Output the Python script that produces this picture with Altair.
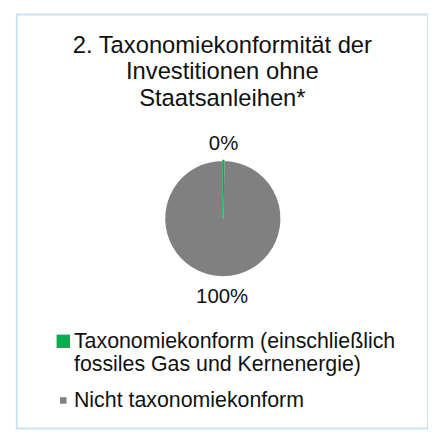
import altair as alt
import pandas as pd

# ---- data ----
categories = [
    "Taxonomiekonform (einschließlich\nfossiles Gas und Kernenergie)",
    "Nicht taxonomiekonform",
]
values = [0.3, 99.7]          # share in % (green slice is a hairline, labelled 0%)
labels = ["0%", "100%"]
rank = [0, 1]                 # clockwise order from 12 o'clock
slice_colors = ["#00B050", "#808080"]
edge_colors = ["#00B050", "#FFFFFF"]
legend_sizes = [190, 45]
title_lines = ["2. Taxonomiekonformität der", "Investitionen ohne", "Staatsanleihen*"]

FONT = "Liberation Sans"
TXT = "#111111"
BORDER = "#C5E3F8"

df = pd.DataFrame({"category": categories, "value": values, "label": labels, "rank": rank})
df = df.iloc[::-1].reset_index(drop=True)  # draw grey first, green on top

legend = alt.Legend(
    title=None, orient="none", legendX=32, legendY=326, padding=0,
    symbolType="square", symbolStrokeWidth=0, symbolOpacity=1, symbolOffset=5,
    labelExpr="split(datum.label, '\\n')", labelFont=FONT, labelFontSize=22,
    labelColor=TXT, labelLimit=400, labelOffset=0, rowPadding=15,
)
color = alt.Color("category:N", scale=alt.Scale(domain=categories, range=slice_colors), legend=legend)
size = alt.Size("category:N", scale=alt.Scale(type="ordinal", domain=categories, range=legend_sizes), legend=legend)

base = alt.Chart(df)

arcs = base.mark_arc(outerRadius=60, strokeWidth=1.2, xOffset=0.5, yOffset=-3).encode(
    theta=alt.Theta("value:Q", stack=True),
    order=alt.Order("rank:Q"),
    color=color,
    stroke=alt.Stroke("category:N", scale=alt.Scale(domain=categories, range=edge_colors), legend=None),
)

texts = base.mark_text(radius=79, font=FONT, fontSize=21, color=TXT, xOffset=0.5, yOffset=-1).encode(
    theta=alt.Theta("value:Q", stack=True),
    order=alt.Order("rank:Q"),
    text="label:N",
)

legend_layer = base.mark_square(opacity=1).encode(color=color, size=size).transform_filter("false")

chart = alt.layer(arcs, texts, legend_layer).properties(
    width=424, height=427,
    autosize=alt.AutoSizeParams(type="none"),
    padding={"left": 9, "top": 0, "right": 0, "bottom": 0},
    title=alt.TitleParams(
        text=title_lines, font=FONT, fontSize=24.5, fontWeight="normal", color=TXT,
        anchor="middle", frame="group", baseline="top", offset=-100, lineHeight=27.5, dx=0,
    ),
).configure(
    background="white",
    view=alt.ViewConfig(stroke=BORDER, strokeWidth=2),
    style={"view": {"stroke": BORDER, "strokeWidth": 2}},
)

chart.save("out.html", embed_options={"renderer": "svg", "actions": False})
